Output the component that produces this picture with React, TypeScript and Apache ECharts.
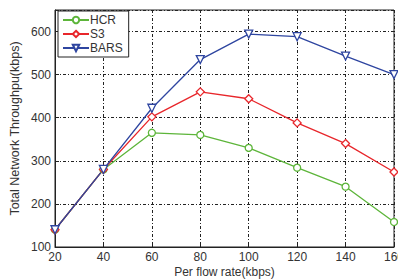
import React, { useEffect, useRef } from "react";
import * as echarts from "echarts";

const categories = [20, 40, 60, 80, 100, 120, 140, 160];
const hcr = [140, 280, 365, 360, 330, 284, 240, 158];
const s3 = [140, 280, 402, 460, 444, 388, 340, 274];
const bars = [140, 280, 422, 535, 594, 588, 543, 500];
const yTicks = [100, 200, 300, 400, 500, 600];

const triDown = "path://M0,0 L10,0 L5,9 Z";

export default function App() {
  const ref = useRef<HTMLDivElement>(null);
  useEffect(() => {
    const chart = echarts.init(ref.current!, null, { renderer: "svg" });
    const font = "Liberation Sans, Arial, sans-serif";
    const mk = (name: string, data: number[], color: string, symbol: string, size: number) => ({
      name,
      type: "line",
      data: categories.map((c, i) => [c, data[i]]),
      symbol,
      symbolSize: size,
      showSymbol: true,
      itemStyle: { color: "#fff", borderColor: color, borderWidth: 1.3 },
      lineStyle: { color, width: 1.3 },
    });
    chart.setOption({
      animation: false,
      backgroundColor: "#fff",
      textStyle: { fontFamily: font },
      grid: {
        left: 55,
        right: 4,
        top: 10,
        bottom: 33,
        show: true,
        borderColor: "#222",
        borderWidth: 1,
        containLabel: false,
        outerBoundsMode: "none",
      },
      legend: {
        orient: "vertical",
        left: 58,
        top: 11,
        padding: [3, 6, 3, 4],
        itemGap: 2,
        itemWidth: 26,
        itemHeight: 8,
        borderColor: "#222",
        borderWidth: 1,
        backgroundColor: "#fff",
        textStyle: { fontSize: 12, color: "#333", fontFamily: font, padding: [0, 0, 0, -4] },
        data: ["HCR", "S3", "BARS"],
      },
      xAxis: {
        type: "value",
        min: 20,
        max: 160,
        interval: 20,
        name: "Per flow rate(kbps)",
        nameLocation: "middle",
        nameGap: 19,
        nameMoveOverlap: false,
        nameTextStyle: { fontSize: 12, color: "#333", fontFamily: font },
        axisLine: { show: true, lineStyle: { color: "#222" } },
        axisTick: { show: true, inside: true, length: 4, lineStyle: { color: "#222" } },
        axisLabel: { fontSize: 12, color: "#333", margin: 4, fontFamily: font, hideOverlap: false },
        splitLine: { show: true, lineStyle: { color: "#222", type: [3, 2, 1, 2], width: 1 } },
      },
      yAxis: {
        type: "value",
        min: 100,
        max: 650,
        interval: 100,
        name: "Total Network Throughpu(kbps)",
        nameLocation: "middle",
        nameGap: 34,
        nameMoveOverlap: false,
        nameTextStyle: { fontSize: 12.5, color: "#333", fontFamily: font },
        axisLine: { show: true, lineStyle: { color: "#222" } },
        axisTick: { show: true, inside: true, length: 4, lineStyle: { color: "#222" } },
        axisLabel: {
          fontSize: 12,
          color: "#333",
          margin: 4,
          fontFamily: font,
          formatter: (v: number) => (yTicks.includes(v) ? String(v) : ""),
        },
        splitLine: { show: true, lineStyle: { color: "#222", type: [3, 2, 1, 2], width: 1 } },
      },
      series: [
        mk("HCR", hcr, "#5db53a", "circle", 7),
        mk("S3", s3, "#e8262b", "diamond", 8),
        mk("BARS", bars, "#2e45a0", triDown, 8),
      ],
    });
    return () => chart.dispose();
  }, []);
  return <div ref={ref} style={{ width: 398, height: 280, position: "absolute", left: 0, top: 0 }} />;
}
